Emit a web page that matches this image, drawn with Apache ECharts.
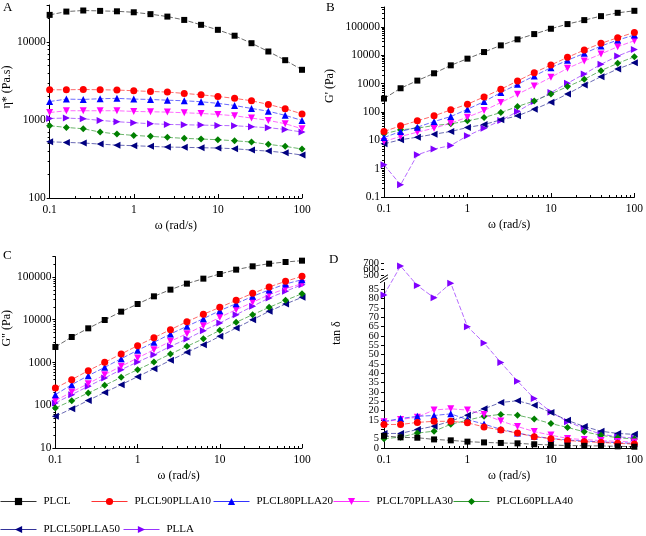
<!DOCTYPE html>
<html><head><meta charset="utf-8">
<script src="https://cdn.jsdelivr.net/npm/echarts@6/dist/echarts.min.js"></script>
<style>html,body{margin:0;padding:0;background:#fff}#c{width:646px;height:536px}</style>
</head><body><div id="c"></div>
<script>
// frequency (rad/s)
const omega = [0.1, 0.158, 0.251, 0.398, 0.631, 1, 1.58, 2.51, 3.98, 6.31, 10, 15.8, 25.1, 39.8, 63.1, 100];
const names = ['PLCL','PLCL90PLLA10','PLCL80PLLA20','PLCL70PLLA30','PLCL60PLLA40','PLCL50PLLA50','PLLA'];
const colors = ['#000000','#ff0000','#0000ff','#ff00ff','#008000','#000080','#8000ff'];
const symbols = ['rect','circle','triangle','triangle','diamond','triangle','triangle'];
const rotations = [0,0,0,180,0,90,-90];

// Panel A: complex viscosity eta* (Pa.s)
const A_PLCL   = [22400, 24700, 25500, 25200, 24900, 24200, 22900, 21300, 19300, 16700, 14400, 12100, 9700, 7590, 5870, 4420];
const A_PLCL90 = [2450, 2450, 2470, 2450, 2430, 2380, 2330, 2290, 2200, 2110, 2010, 1900, 1770, 1590, 1400, 1200];
const A_PLCL80 = [1730, 1860, 1840, 1880, 1900, 1860, 1840, 1800, 1770, 1720, 1640, 1540, 1410, 1300, 1150, 990];
const A_PLCL70 = [1250, 1318, 1318, 1318, 1318, 1292, 1279, 1267, 1242, 1217, 1182, 1137, 1061, 991, 898, 774];
const A_PLCL60 = [846, 805, 774, 702, 662, 636, 618, 600, 583, 571, 560, 543, 522, 488, 460, 425];
const A_PLCL50 = [527, 517, 508, 492, 477, 469, 460, 451, 447, 442, 438, 429, 412, 400, 381, 356];
const A_PLLA   = [1050, 1061, 1040, 991, 953, 925, 898, 880, 871, 862, 854, 846, 822, 798, 759, 702];

// Panel B: storage modulus G' (Pa)
const B_PLCL   = [295, 682, 1270, 2300, 4390, 7540, 12900, 22200, 36100, 55500, 85500, 125000, 172500, 238000, 312000, 367000];
const B_PLCL90 = [20.4, 32.3, 48.4, 72.6, 118, 187, 338, 629, 1234, 2427, 4510, 8380, 15200, 26100, 41300, 63600];
const B_PLCL80 = [12.5, 20.4, 28.9, 45.8, 68.7, 124, 231, 480, 942, 1853, 3636, 6630, 11600, 21000, 34100, 51200];
const B_PLCL70 = [9.08, 13.6, 19.3, 26.7, 40.1, 65.2, 112, 214, 419, 824, 1660, 3440, 6240, 11000, 19900, 32400];
const B_PLCL60 = [16.9, 23.3, 26.7, 33.2, 37.9, 48.4, 63.4, 95, 155, 244, 431, 780, 1413, 2851, 5160, 8850];
const B_PLCL50 = [7.5, 10.4, 12.9, 16.4, 20.4, 28.2, 35.9, 52.5, 72.6, 124, 219, 431, 893, 1754, 3260, 5440];
const B_PLLA   = [1.37, 0.27, 3.08, 4.88, 6.56, 14.4, 26.7, 49.7, 103, 231, 480, 1021, 2177, 4760, 9350, 16000];

// Panel C: loss modulus G'' (Pa)
const C_PLCL   = [2310, 3950, 6300, 9870, 15460, 23350, 35300, 50600, 69900, 91500, 117600, 148500, 177800, 205000, 224600, 241000];
const C_PLCL90 = [253, 397, 644, 1009, 1581, 2477, 3812, 5862, 9020, 13390, 19500, 28440, 41480, 58350, 79200, 103800];
const C_PLCL80 = [177, 303, 492, 771, 1230, 1927, 2965, 4645, 7020, 10600, 16300, 23760, 35300, 49650, 68600, 86700];
const C_PLCL70 = [128, 204, 320, 519, 813, 1274, 1996, 3127, 4723, 7270, 11400, 17200, 25560, 38600, 53300, 69900];
const C_PLCL60 = [86.2, 128, 194, 292, 450, 679, 1027, 1581, 2389, 3605, 5650, 8710, 13150, 19500, 28440, 40740];
const C_PLCL50 = [55, 83, 130, 200, 303, 466, 718, 1124, 1730, 2614, 4093, 6412, 10040, 15740, 23350, 33400];
const C_PLLA   = [113, 177, 277, 434, 679, 1027, 1525, 2389, 3545, 5557, 8400, 13150, 20600, 32300, 46200, 66200];

// Panel D: tan delta
const D_PLCL   = [6.5, 5.7, 5.5, 4.6, 4.1, 3.4, 3.0, 2.7, 2.5, 2.0, 1.6, 1.3, 1.2, 1.1, 0.9, 0.7];
const D_PLCL90 = [12.6, 12.6, 13.7, 14.3, 14.3, 13.5, 11.3, 9.6, 8.0, 6.0, 5.0, 4.0, 3.4, 3.0, 2.5, 2.1];
const D_PLCL80 = [14.2, 15.8, 17.0, 17.4, 18.3, 15.2, 12.8, 10.0, 8.0, 6.3, 5.1, 4.3, 3.7, 3.3, 2.8, 2.5];
const D_PLCL70 = [14.0, 15.3, 16.5, 20.4, 21.0, 20.3, 18.0, 14.5, 11.5, 8.8, 6.9, 5.1, 4.5, 4.0, 3.5, 3.2];
const D_PLCL60 = [5.0, 5.8, 8.0, 9.0, 12.7, 14.9, 17.0, 18.0, 17.6, 15.6, 13.1, 11.0, 8.7, 6.8, 5.5, 4.8];
const D_PLCL50 = [7.8, 7.8, 9.9, 11.7, 14.4, 17.6, 21.0, 24.4, 25.3, 22.9, 19.0, 14.8, 11.5, 9.0, 7.8, 7.3];
const D_PLLA   = [82, 654, 87, 80.5, 88.3, 65, 56.3, 45.8, 35.8, 26.5, 19.3, 14.1, 10.5, 7.4, 6.0, 5.3];

// tan delta tick labels (second list: labels drawn by a companion axis so they are not dropped as overlapping)
const D_ticks = [0,5,10,15,20,25,30,35,40,45,50,55,60,65,70,75,80,85,500,600,700];
const D_ticksMain = [5,10,15,20,25,30,35,40,45,50,55,60,65,70,75,80,85,500,700];
const D_ticksExtra = [0,600];

const panels = [
  [A_PLCL, A_PLCL90, A_PLCL80, A_PLCL70, A_PLCL60, A_PLCL50, A_PLLA],
  [B_PLCL, B_PLCL90, B_PLCL80, B_PLCL70, B_PLCL60, B_PLCL50, B_PLLA],
  [C_PLCL, C_PLCL90, C_PLCL80, C_PLCL70, C_PLCL60, C_PLCL50, C_PLLA],
  [D_PLCL, D_PLCL90, D_PLCL80, D_PLCL70, D_PLCL60, D_PLCL50, D_PLLA]
];

const FONT = 'Liberation Serif';
const txt = {color:'#000', fontFamily: FONT, fontSize: 12};

function powLabel(v){
  const l = Math.log10(v);
  return Math.abs(l - Math.round(l)) < 1e-6 ? String(+v.toPrecision(6)) : '';
}

function xAx(i){
  return {
    type:'log', logBase:10, gridIndex:i, min:0.1, max:100,
    name:'ω (rad/s)', nameLocation:'middle', nameGap:22,
    nameTextStyle:{color:'#000', fontFamily:FONT, fontSize:12},
    axisLine:{show:true, onZero:false, lineStyle:{color:'#000', width:1}},
    axisTick:{show:true, inside:true, length:4, lineStyle:{color:'#000'}},
    minorTick:{show:true, splitNumber:9, length:2, lineStyle:{color:'#000'}},
    splitLine:{show:false},
    axisLabel:{...txt, fontSize:11.5, margin:6, formatter: powLabel, showMinLabel:true}
  };
}
function yLog(i, min, max, name, gap, shift){
  return {
    type:'log', logBase:10, gridIndex:i, min:min, max:max,
    name:name, nameLocation:'middle', nameGap:gap,
    nameTextStyle:{color:'#000', fontFamily:FONT, fontSize:12, padding:[0,0,0,shift]},
    axisLine:{show:true, onZero:false, lineStyle:{color:'#000', width:1}},
    axisTick:{show:true, inside:false, length:3, lineStyle:{color:'#000'}},
    minorTick:{show:true, splitNumber:9, length:2, lineStyle:{color:'#000'}},
    splitLine:{show:false},
    axisLabel:{...txt, fontSize:11.5, margin:4, formatter: powLabel, showMaxLabel:false, showMinLabel:true}
  };
}

const D_breaks = [
  {start:89, end:499.9, gap:3.3},
  {start:500.1, end:599.9, gap:3.0},
  {start:600.1, end:699.9, gap:3.3}
];
function yDAxis(main){
  return {
    type:'value', gridIndex:3, min:0, max:700, interval:5, position:'left',
    breaks: D_breaks.map(function(b){ return Object.assign({}, b); }),
    breakArea:{show:false},
    breakLabelLayout:{moveOverlap:false},
    name: main ? 'tan δ' : '', nameLocation:'middle', nameGap:41,
    nameTextStyle:{color:'#000', fontFamily:FONT, fontSize:12, padding:[0,0,0,45]},
    axisLine:{show:main, onZero:false, lineStyle:{color:'#000', width:1}},
    axisTick:{show:true, inside:false, length:3, lineStyle:{color:'#000'}, customValues: D_ticks},
    splitLine:{show:false},
    axisLabel:{...txt, fontSize:10.5, margin:5, customValues: main ? D_ticksMain : D_ticksExtra,
      showMinLabel:true, showMaxLabel:true, hideOverlap:false,
      formatter:function(v){ return String(Math.round(v)); }}
  };
}

const series = [];
panels.forEach(function(p, pi){
  p.forEach(function(arr, k){
    series.push({
      type:'line', name:names[k], xAxisIndex:pi, yAxisIndex:pi,
      data: omega.map(function(x, i){ return [x, arr[i]]; }),
      symbol:symbols[k], symbolSize: k===0 ? 6 : 7, symbolRotate:rotations[k],
      itemStyle:{color:colors[k]},
      lineStyle:{color:colors[k], width:0.9, type:[5,2], opacity:0.65},
      showSymbol:true, animation:false, z: 10 - k
    });
  });
});

const legendPos = [[0,496],[91,496],[213,496],[333,496],[453,496],[0,524],[123,524]];
const legends = names.map(function(n, k){
  return {
    data:[n], left:legendPos[k][0], top:legendPos[k][1], padding:0,
    itemWidth:36, itemHeight:9, itemGap:0,
    lineStyle:{type:'solid', width:1, opacity:0.8},
    textStyle:{color:'#000', fontFamily:FONT, fontSize:11, padding:[0,0,0,2]}
  };
});

const titles = [['A',3,1],['B',326,1],['C',3,249],['D',329,253]].map(function(t){
  return {text:t[0], left:t[1], top:t[2], padding:0,
    textStyle:{color:'#000', fontFamily:FONT, fontSize:13, fontWeight:'normal'}};
});

const chart = echarts.init(document.getElementById('c'));
chart.setOption({
  animation:false,
  backgroundColor:'#fff',
  title: titles,
  legend: legends,
  grid:[
    {left:49, top:5, width:253, height:193},
    {left:384, top:7, width:253, height:190},
    {left:49, top:256.6, width:253, height:191.4},
    {left:384, top:263, width:253, height:185}
  ],
  xAxis:[xAx(0), xAx(1), xAx(2), xAx(3)],
  yAxis:[
    yLog(0, 100, 30000, 'η* (Pa.s)', 35, 29),
    yLog(1, 0.1, 500000, "G' (Pa)", 48, 32),
    yLog(2, 10, 300000, 'G" (Pa)', 36, 48),
    yDAxis(true),
    yDAxis(false)
  ],
  series: series
});

// break mark "//" on the tan δ axis, placed between the break's start and end values
const yLow = chart.convertToPixel({yAxisIndex:3}, 89);
const yHigh = chart.convertToPixel({yAxisIndex:3}, 499.9);
const xAxisPx = chart.convertToPixel({xAxisIndex:3}, 0.1);
const ym = (yLow + yHigh) / 2;
chart.setOption({
  graphic:[
    {type:'rect', shape:{x:xAxisPx-1, y:ym-2, width:3, height:4}, style:{fill:'#fff'}, z:100},
    {type:'line', shape:{x1:xAxisPx-4, y1:ym+1, x2:xAxisPx+4, y2:ym-4}, style:{stroke:'#000', lineWidth:1}, z:101},
    {type:'line', shape:{x1:xAxisPx-4, y1:ym+4, x2:xAxisPx+4, y2:ym-1}, style:{stroke:'#000', lineWidth:1}, z:101}
  ]
});
</script>
</body></html>
